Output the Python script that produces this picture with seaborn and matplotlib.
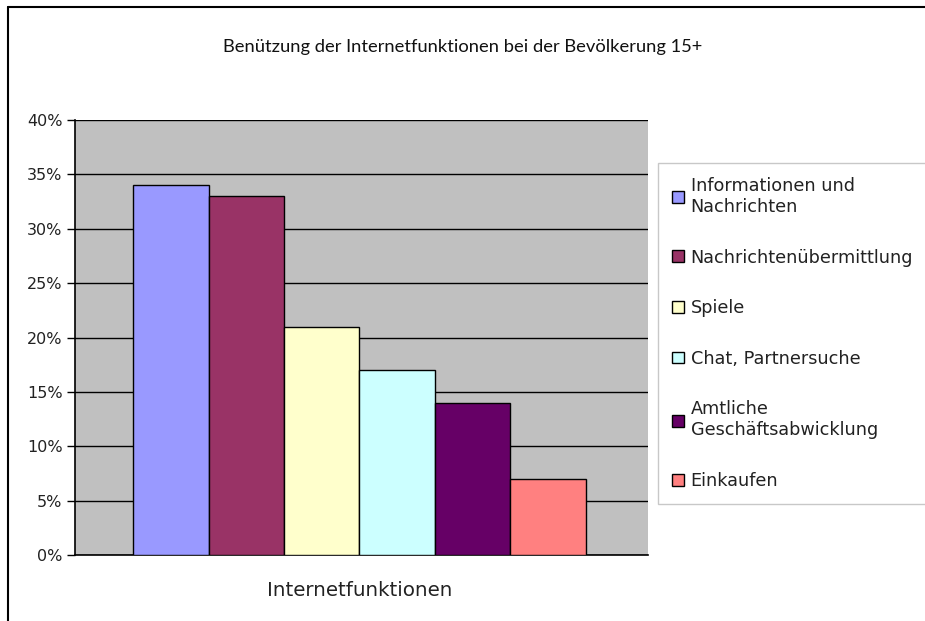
import pandas as pd
import matplotlib.pyplot as plt
import seaborn as sns
from matplotlib.lines import Line2D

# data
kategorie = ["Internetfunktionen"]
funktionen = ["Informationen und\nNachrichten", "Nachrichtenübermittlung", "Spiele",
              "Chat, Partnersuche", "Amtliche\nGeschäftsabwicklung", "Einkaufen"]
anteile = [0.34, 0.33, 0.21, 0.17, 0.14, 0.07]
farben = ["#9999FF", "#993366", "#FFFFCC", "#CCFFFF", "#660066", "#FF8080"]
y_ticks = [0, 0.05, 0.10, 0.15, 0.20, 0.25, 0.30, 0.35, 0.40]
y_labels = ["0%", "5%", "10%", "15%", "20%", "25%", "30%", "35%", "40%"]

df = pd.DataFrame({"kategorie": kategorie * len(funktionen),
                   "funktion": funktionen, "anteil": anteile})

sns.set_style("white")
plt.rcParams["font.family"] = ["DejaVu Sans"]

fig = plt.figure(figsize=(9.25, 6.21), dpi=100)
ax = fig.add_axes([75 / 925, 1 - 555 / 621, 573 / 925, 435 / 621])

sns.barplot(data=df, x="kategorie", y="anteil", hue="funktion", palette=farben,
            hue_order=funktionen, width=0.79, edgecolor="black", linewidth=1,
            saturation=1, ax=ax, zorder=3)

ax.set_facecolor("#C0C0C0")
ax.set_xlim(-0.4965, 0.5035)
ax.set_ylim(0, 0.40)
ax.set_yticks(y_ticks)
ax.set_yticklabels(y_labels, fontsize=11.5, color="#222222")
ax.yaxis.grid(True, color="black", linewidth=1)
ax.set_axisbelow(True)
ax.tick_params(axis="y", direction="out", length=6, width=1, color="black", left=True, pad=3)
ax.tick_params(axis="x", length=0, labelsize=14.3, pad=19, labelcolor="#222222")
ax.set_xlabel("")
ax.set_ylabel("")
for s in ["top", "right"]:
    ax.spines[s].set_visible(False)
for s in ["left", "bottom"]:
    ax.spines[s].set_color("black")
    ax.spines[s].set_linewidth(1.2)

handles, labels = ax.get_legend_handles_labels()
ax.get_legend().remove()
leg = fig.legend(handles, labels, loc="upper left", bbox_to_anchor=(658 / 925, 1 - 163 / 621),
                 frameon=True, fontsize=12.7, handlelength=0.65, handleheight=0.65,
                 handletextpad=0.4, labelspacing=1.85, borderpad=0.8, fancybox=False,
                 borderaxespad=0, labelcolor="#222222")
leg.get_frame().set_edgecolor("#BBBBBB")
leg.get_frame().set_linewidth(1)

fig.text(0.5, 1 - 47 / 621, "Benützung der Internetfunktionen bei der Bevölkerung 15+",
         ha="center", va="center", fontsize=13.2, family=["Lato", "DejaVu Sans"],
         color="#111111")

# outer chart border
fig.add_artist(Line2D([8 / 925, 8 / 925], [0, 1 - 7 / 621], color="black", linewidth=1.5))
fig.add_artist(Line2D([8 / 925, 1], [1 - 7 / 621, 1 - 7 / 621], color="black", linewidth=1.5))

fig.savefig("out.png", dpi=100)
